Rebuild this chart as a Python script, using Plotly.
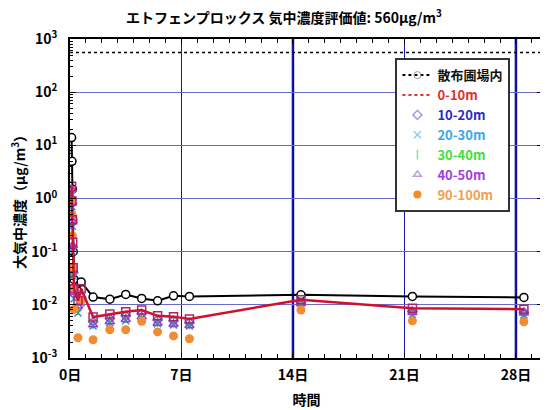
import plotly.graph_objects as go

# ---- data (days, µg/m3) ----
days = [0.1, 0.125, 0.15, 0.17, 0.2, 0.25, 0.5, 0.7, 1.45, 2.5, 3.5, 4.5, 5.5, 6.5, 7.5, 14.5, 21.5, 28.5]

field = [14, 5, 1.5, 0.4, 0.1, 0.03, 0.018, 0.027, 0.014, 0.0128, 0.0157, 0.0132, 0.0119, 0.0148, 0.0144, 0.0154, 0.0144, 0.0138]
d0_10 = [1.7, 0.9, 0.4, 0.15, 0.05, 0.02, 0.012, 0.020, 0.0059, 0.0067, 0.0074, 0.0080, 0.0062, 0.0060, 0.0054, 0.0125, 0.0086, 0.0083]
d10_20 = [1.4, 0.8, 0.35, 0.12, 0.04, 0.016, 0.009, 0.014, 0.0048, 0.0055, 0.0062, 0.0068, 0.0052, 0.0050, 0.0046, 0.0110, 0.0075, 0.0072]
d20_30 = [1.2, 0.7, 0.3, 0.1, 0.035, 0.013, 0.007, 0.011, 0.0040, 0.0046, 0.0050, 0.0056, 0.0044, 0.0042, 0.0040, 0.0095, 0.0066, 0.0064]
d30_40 = [1.3, 0.75, 0.32, 0.11, 0.038, 0.015, 0.008, 0.012, 0.0044, 0.0050, 0.0056, 0.0062, 0.0048, 0.0046, 0.0043, 0.0100, 0.0070, 0.0068]
d40_50 = [1.5, 0.85, 0.38, 0.13, 0.045, 0.017, 0.0095, 0.015, 0.0042, 0.0048, 0.0053, 0.0060, 0.0045, 0.0043, 0.0041, 0.0105, 0.0072, 0.0070]
d90_100 = [0.9, 0.5, 0.2, 0.05, 0.02, 0.0082, 0.0024, 0.012, 0.0022, 0.0034, 0.0034, 0.0049, 0.0031, 0.0026, 0.0023, 0.0080, 0.0050, 0.0048]

eval_value = 560

x_tick_vals = [0, 7, 14, 21, 28]
x_tick_text = ["0日", "7日", "14日", "21日", "28日"]
y_tick_vals = [1e-3, 1e-2, 1e-1, 1, 10, 100, 1000]
y_tick_text = ["10<sup>-3</sup>", "10<sup>-2</sup>", "10<sup>-1</sup>", "10<sup>0</sup>",
               "10<sup>1</sup>", "10<sup>2</sup>", "10<sup>3</sup>"]
thick_grid_days = [14, 28]

FONT = "Noto Sans CJK JP, sans-serif"

fig = go.Figure()

def lab(text, color):
    return f"<span style='color:{color}'>{text}</span>"

# actual data traces (no legend)
fig.add_trace(go.Scatter(x=days, y=field, mode="lines+markers", showlegend=False,
                         line=dict(color="black", width=2),
                         marker=dict(symbol="circle", size=8, color="white",
                                     line=dict(color="black", width=1.5))))
series = [
    (d10_20, "diamond-open", "#6a6ad8", 7),
    (d20_30, "x-thin-open", "#3a8ad0", 7),
    (d30_40, "line-ns-open", "#40b040", 7),
    (d40_50, "triangle-up-open", "#9040d0", 8),
]
for vals, sym, col, sz in series:
    fig.add_trace(go.Scatter(x=days, y=vals, mode="markers", showlegend=False,
                             marker=dict(symbol=sym, size=sz, color=col,
                                         line=dict(color=col, width=1.5))))
fig.add_trace(go.Scatter(x=days, y=d90_100, mode="markers", showlegend=False,
                         marker=dict(symbol="circle", size=9, color="#f28c32")))
fig.add_trace(go.Scatter(x=days, y=d0_10, mode="lines+markers", showlegend=False,
                         line=dict(color="#d0102a", width=2.5),
                         marker=dict(symbol="square-open", size=8, color="#b0206a",
                                     line=dict(width=1.5))))

# legend-only entries
fig.add_trace(go.Scatter(x=[None], y=[None], mode="lines+markers", name=lab("散布圃場内", "#111"),
                         line=dict(color="black", width=2, dash="dot"),
                         marker=dict(symbol="circle-open", size=7, color="#999")))
fig.add_trace(go.Scatter(x=[None], y=[None], mode="lines", name=lab("0-10m", "#e03030"),
                         line=dict(color="#e03030", width=2, dash="dot")))
leg = [
    ("10-20m", "#2a2ac8", "diamond-open", "#a0a0e0"),
    ("20-30m", "#38a8e8", "x-thin-open", "#90c8f0"),
    ("30-40m", "#40e040", "line-ns-open", "#90e090"),
    ("40-50m", "#a040e0", "triangle-up-open", "#c0a0e0"),
]
for name, tcol, sym, mcol in leg:
    fig.add_trace(go.Scatter(x=[None], y=[None], mode="markers", name=lab(name, tcol),
                             marker=dict(symbol=sym, size=7, color=mcol, line=dict(color=mcol, width=1.5))))
fig.add_trace(go.Scatter(x=[None], y=[None], mode="markers", name=lab("90-100m", "#f0a050"),
                         marker=dict(symbol="circle", size=8, color="#f28c32")))

# evaluation value line
fig.add_hline(y=eval_value, line=dict(color="black", width=1.5, dash="dot"), layer="above")
for d in thick_grid_days:
    fig.add_vline(x=d, line=dict(color="#0a0a9a", width=2.5), layer="below")

minor_y = [m * 10 ** e for e in range(-3, 3) for m in range(2, 10)]

fig.update_layout(
    width=540, height=402,
    margin=dict(l=62, r=3, t=31, b=52),
    paper_bgcolor="white", plot_bgcolor="white",
    font=dict(family=FONT, size=14, color="black", weight="bold"),
    title=dict(text="エトフェンプロックス 気中濃度評価値: 560μg/m<sup>3</sup>",
               x=0.511, xanchor="center", y=0.975, yanchor="middle",
               font=dict(family=FONT, size=14, weight="bold")),
    legend=dict(x=0.688, y=0.94, xanchor="left", yanchor="top",
                bgcolor="white", bordercolor="#333", borderwidth=2,
                font=dict(family=FONT, size=13, weight="bold"),
                tracegroupgap=0, itemwidth=30),
    xaxis=dict(range=[0, 29.7], tickmode="array", tickvals=x_tick_vals, ticktext=x_tick_text,
               ticks="inside", ticklen=5, tickcolor="black", showline=True, linecolor="black",
               linewidth=2, mirror="ticks", showgrid=True, gridcolor="#1515b0", gridwidth=1.3,
               zeroline=False, ticklabelstandoff=3,
               minor=dict(tickmode="linear", tick0=0, dtick=1, ticks="inside", ticklen=4,
                          tickcolor="black", showgrid=False),
               title=dict(text="時間", standoff=12, font=dict(size=14, weight="bold"))),
    yaxis=dict(type="log", range=[-3, 3], tickmode="array", tickvals=y_tick_vals, ticktext=y_tick_text,
               ticks="inside", ticklen=6, tickcolor="black", showline=True, linecolor="black",
               linewidth=2, mirror="ticks", showgrid=True, gridcolor="#6a6ac8", gridwidth=1,
               zeroline=False, ticklabelstandoff=8,
               minor=dict(tickmode="array", tickvals=minor_y, ticks="inside", ticklen=3,
                          tickcolor="black", showgrid=False),
               title=dict(text="大気中濃度（μg/m<sup>3</sup>）", standoff=6, font=dict(size=14, weight="bold"))),
)

fig.write_html("out.html")
